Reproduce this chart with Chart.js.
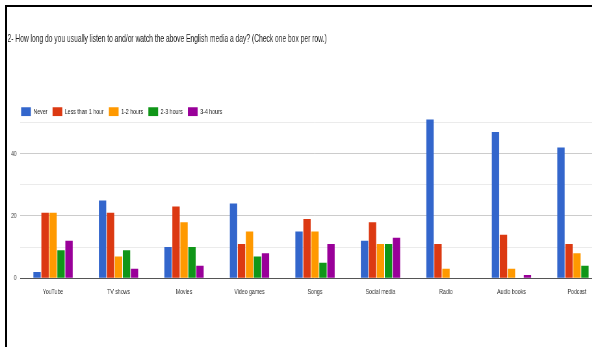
<!DOCTYPE html>
<html>
<head>
<meta charset="utf-8">
<script src="https://cdn.jsdelivr.net/npm/chart.js@4.4.0/dist/chart.umd.min.js"></script>
<style>
  html, body { margin: 0; padding: 0; background: #fff; overflow: hidden; }
  body { width: 592px; height: 347px; position: relative; }
  .frame { position: absolute; left: 5px; top: 5px; width: 700px; height: 400px; border: 2px solid #000; box-sizing: border-box; }
  .stretch { position: absolute; left: 0; top: 0; width: 960px; height: 347px; transform: scaleX(0.65); transform-origin: 0 0; }
</style>
</head>
<body>
<div class="frame"></div>
<div class="stretch"><canvas id="chart" width="960" height="347"></canvas></div>
<script>
'use strict';

var categories = ['YouTube', 'TV shows', 'Movies', 'Video games', 'Songs', 'Social media', 'Radio', 'Audio books', 'Podcast'];
var seriesNames = ['Never', 'Less than 1 hour', '1-2 hours', '2-3 hours', '3-4 hours'];
var never = [2, 25, 10, 24, 15, 12, 51, 47, 42];
var lessThanOne = [21, 21, 23, 11, 19, 18, 11, 14, 11];
var oneToTwo = [21, 7, 18, 15, 15, 11, 3, 3, 8];
var twoToThree = [9, 9, 10, 7, 5, 11, 0, 0, 4];
var threeToFour = [12, 3, 4, 8, 11, 13, 0, 1, 0];
var yTicks = [0, 10, 20, 30, 40, 50];
var yLabels = [0, 20, 40];

var colors = ['#3366cc', '#dc3912', '#ff9900', '#109618', '#990099'];
var font = "'Liberation Sans', Arial, sans-serif";

// legend sits closer to the plot and a bit further right than chart.js puts it
var legendTweak = {
    id: 'legendTweak',
    beforeLayout: function (chart) {
        var legend = chart.legend;
        if (legend && !legend._trimmed) {
            var fit = legend.fit;
            legend.fit = function () {
                fit.call(this);
                this.height -= 10;
            };
            legend._trimmed = true;
        }
    },
    afterLayout: function (chart) {
        chart.legend.left += 13;
    }
};

var datasets = [never, lessThanOne, oneToTwo, twoToThree, threeToFour].map(function (values, i) {
    return {
        label: seriesNames[i],
        data: values,
        backgroundColor: colors[i],
        borderWidth: 0,
        categoryPercentage: 0.61,
        barPercentage: 0.92
    };
});

new Chart(document.getElementById('chart'), {
    type: 'bar',
    data: {
        labels: categories,
        datasets: datasets
    },
    plugins: [legendTweak],
    options: {
        responsive: false,
        animation: false,
        devicePixelRatio: 1,
        layout: {
            padding: { left: 11.5, right: 22, top: 0, bottom: 42 }
        },
        plugins: {
            title: {
                display: true,
                align: 'start',
                text: '2- How long do you usually listen to and/or watch the above English media a day? (Check one box per row.)',
                color: '#1a1a1a',
                font: { family: font, size: 10.3, weight: 'normal' },
                padding: { top: 33, bottom: 54 }
            },
            legend: {
                position: 'top',
                align: 'start',
                labels: {
                    boxWidth: 15,
                    boxHeight: 9,
                    padding: 8,
                    color: '#222',
                    font: { family: font, size: 8 }
                }
            },
            tooltip: { enabled: false }
        },
        scales: {
            x: {
                grid: { display: false, drawTicks: false },
                border: { display: false },
                ticks: {
                    color: '#333',
                    padding: 8.6,
                    autoSkip: false,
                    maxRotation: 0,
                    font: { family: font, size: 8 }
                }
            },
            y: {
                min: 0,
                max: 52,
                afterBuildTicks: function (scale) {
                    scale.ticks = yTicks.map(function (v) { return { value: v }; });
                },
                grid: {
                    drawTicks: false,
                    color: function (ctx) {
                        var v = ctx.tick ? ctx.tick.value : null;
                        if (v === 0) return '#555';
                        if (yLabels.indexOf(v) >= 0) return '#cccccc';
                        return '#ebebeb';
                    }
                },
                border: { display: false },
                ticks: {
                    color: '#444',
                    padding: 5.4,
                    font: { family: font, size: 8 },
                    callback: function (value) {
                        return yLabels.indexOf(value) >= 0 ? value : '';
                    }
                }
            }
        }
    }
});
</script>
</body>
</html>
